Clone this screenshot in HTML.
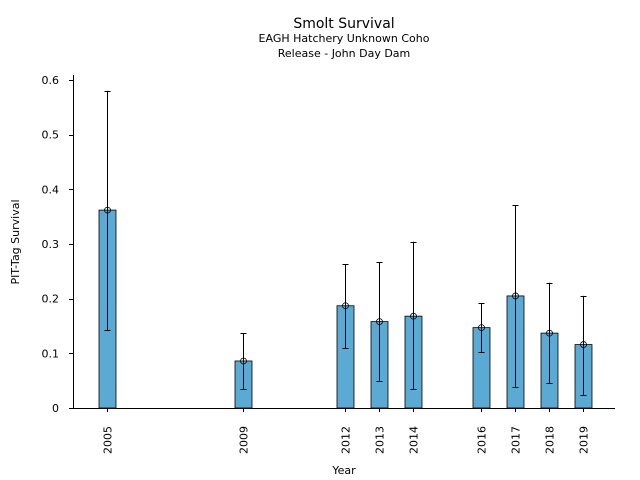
<!DOCTYPE html>
<html><head><meta charset="utf-8"><style>
body{margin:0;background:#fff;}
svg{display:block;font-family:"DejaVu Sans","Liberation Sans",sans-serif;}
</style></head><body>
<svg id="chart" width="640" height="480" viewBox="0 0 640 480">
<text x="344" y="28" font-size="14" text-anchor="middle">Smolt Survival</text>
<text x="344" y="42" font-size="11" text-anchor="middle">EAGH Hatchery Unknown Coho</text>
<text x="344" y="57" font-size="11" text-anchor="middle">Release - John Day Dam</text>
<text transform="translate(19,242) rotate(-90)" font-size="11" text-anchor="middle">PIT-Tag Survival</text>
<text x="344" y="474" font-size="11" text-anchor="middle">Year</text>
<g id="marks"></g>
<line x1="73.5" y1="75" x2="73.5" y2="408" stroke="#000" stroke-width="1"/>
<line x1="73" y1="408.5" x2="615" y2="408.5" stroke="#000" stroke-width="1"/>
</svg>
<script>
const years=[2005,2009,2012,2013,2014,2016,2017,2018,2019];
const survival=[0.362,0.086,0.187,0.158,0.168,0.147,0.205,0.137,0.116];
const lowerCI=[0.142,0.035,0.110,0.050,0.035,0.102,0.038,0.046,0.024];
const upperCI=[0.580,0.137,0.263,0.267,0.304,0.192,0.371,0.229,0.205];
const yTicks=[0,0.1,0.2,0.3,0.4,0.5,0.6];
const yTickLabels=["0","0.1","0.2","0.3","0.4","0.5","0.6"];

const NS="http://www.w3.org/2000/svg";
const xs=y=>107+(y-2005)*34;
const ys=v=>408-v*546.7;
const g=document.getElementById('marks');
function mk(t,a){const e=document.createElementNS(NS,t);for(const k in a)e.setAttribute(k,a[k]);g.appendChild(e);return e;}
yTicks.forEach((v,i)=>{
  const t=mk('line',{x1:69,x2:73,y1:Math.round(ys(v))+0.5,y2:Math.round(ys(v))+0.5,stroke:'#000'});
  
  
  const l=mk('text',{x:59,y:ys(v)+4,'font-size':11,'text-anchor':'end'});
  l.textContent=yTickLabels[i];
  
  
});
years.forEach((yr,i)=>{
  const x=xs(yr)+0.5,w=17;
  const b=mk('rect',{x:x-w/2,y:ys(survival[i]),width:w,height:ys(0)-ys(survival[i]),fill:'#5aaad4',stroke:'#000','stroke-width':0.8});
  
  
  const e=mk('line',{x1:x,x2:x,y1:ys(upperCI[i]),y2:ys(lowerCI[i]),stroke:'#000','stroke-width':1});
  
  
  [upperCI[i],lowerCI[i]].forEach(v=>{
    const c=mk('line',{x1:x-3,x2:x+3,y1:Math.round(ys(v))+0.5,y2:Math.round(ys(v))+0.5,stroke:'#000','stroke-width':1});
    
    
  });
  const p=mk('circle',{cx:x,cy:ys(survival[i]),r:3,fill:'none',stroke:'#000','stroke-width':0.8});
  
  
  const t=mk('line',{x1:x,x2:x,y1:408,y2:412,stroke:'#000'});
  
  
  const l=mk('text',{transform:`translate(${x+4},${440}) rotate(-90)`,'font-size':11,'text-anchor':'middle'});
  l.textContent=yr;
  
  
});
</script>
</body></html>
